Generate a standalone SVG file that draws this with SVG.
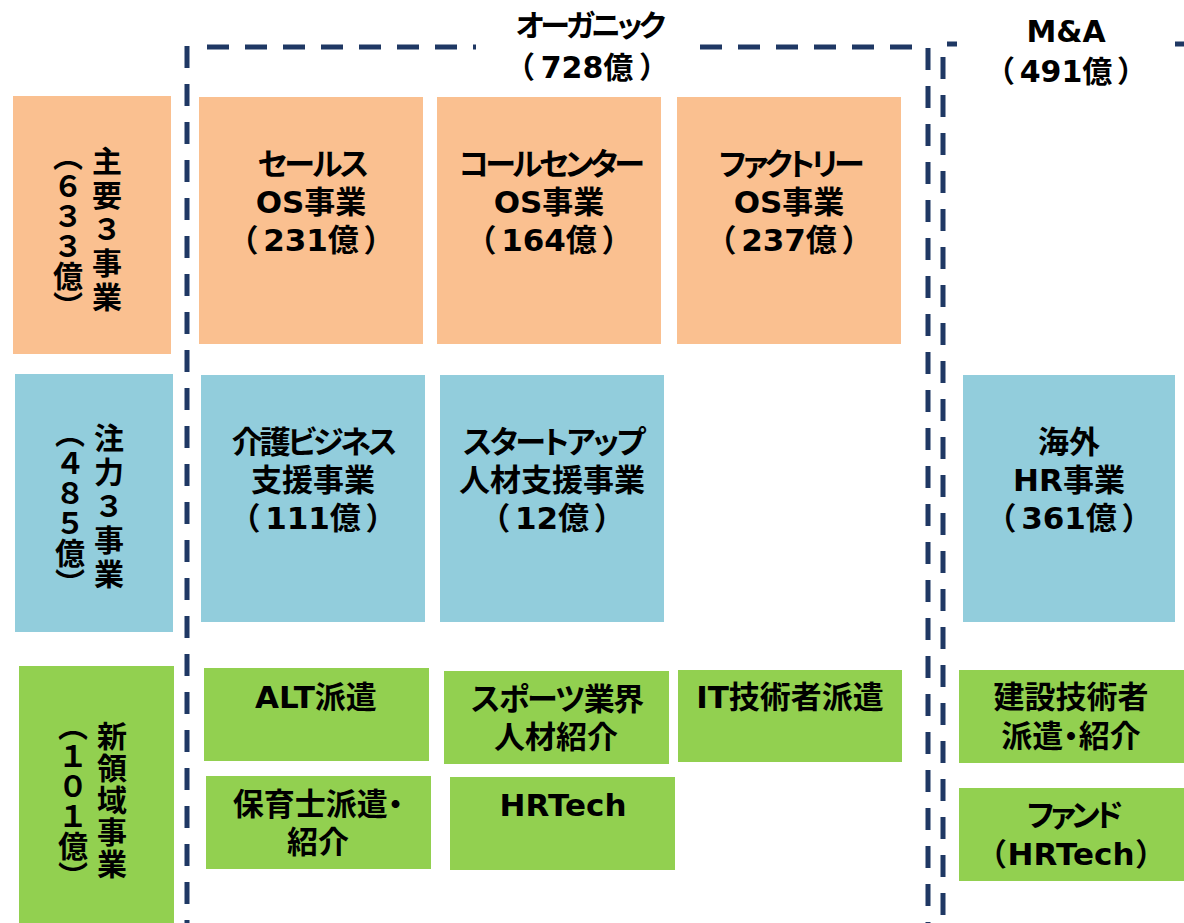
<svg xmlns="http://www.w3.org/2000/svg" width="1184" height="923" viewBox="0 0 1184 923">
<style>
.t{font-family:"DejaVu Sans","Noto Sans CJK JP",sans-serif;font-weight:700;font-size:31px;text-anchor:middle;fill:#000;font-feature-settings:"palt"}
.h{font-family:"DejaVu Sans","Noto Sans CJK JP",sans-serif;font-weight:700;font-size:30px;text-anchor:middle;fill:#000;font-feature-settings:"palt"}
.v{font-family:"Noto Sans CJK JP",sans-serif;font-weight:700;font-size:30px;writing-mode:vertical-rl;text-anchor:middle;fill:#000}
.or{fill:#FAC090}.bl{fill:#92CDDC}.gr{fill:#92D050}
.d{stroke:#1F3864;stroke-width:5;stroke-dasharray:22 16;fill:none}
</style>
<rect width="1184" height="923" fill="#fff"/>
<g id="frames">
<path class="d" d="M187,46 V923"/>
<path class="d" d="M207,47 H476"/>
<path class="d" d="M700,47 H918"/>
<path class="d" d="M928,48 V923"/>
<path class="d" d="M943,57 V923"/>
<path class="d" d="M947,44 H957 M1175,44 H1184" style="stroke-dasharray:none"/>
</g>
<g id="hdr-organic"><text class="h" x="589" y="36" style="letter-spacing:-3.5px">オーガニック</text><text class="h" x="587" y="78">（<tspan dx="7">728億</tspan><tspan dx="7">）</tspan></text></g>
<g id="hdr-ma"><text class="h" x="1066" y="42">M&amp;A</text><text class="h" x="1066" y="82">（<tspan dx="6">491億</tspan><tspan dx="6">）</tspan></text></g>
<g id="row-main"><rect class="or" x="13" y="96" width="158" height="258"/>
<text class="v" x="107" y="231" style="letter-spacing:4px">主要３事業</text><text class="v" x="68" y="231">（６３３億）</text></g>
<g id="row-focus"><rect class="bl" x="15" y="374" width="158" height="258"/>
<text class="v" x="109" y="508" style="letter-spacing:4px">注力３事業</text><text class="v" x="70" y="508">（４８５億）</text></g>
<g id="row-new"><rect class="gr" x="19" y="666" width="155" height="257"/>
<text class="v" x="112" y="801" style="letter-spacing:2px">新領域事業</text><text class="v" x="73" y="801">（１０１億）</text></g>
<g id="sales-os"><rect class="or" x="199" y="97" width="224" height="247"/>
<text class="t" x="312" y="175" style="letter-spacing:-2.5px">セールス</text><text class="t" x="311" y="213">OS事業</text><text class="t" x="311" y="251">（<tspan dx="6">231億</tspan><tspan dx="6">）</tspan></text></g>
<g id="callcenter-os"><rect class="or" x="437" y="97" width="224" height="247"/>
<text class="t" x="550" y="175" style="letter-spacing:-3.5px">コールセンター</text><text class="t" x="549" y="213">OS事業</text><text class="t" x="549" y="251">（<tspan dx="6">164億</tspan><tspan dx="6">）</tspan></text></g>
<g id="factory-os"><rect class="or" x="677" y="97" width="224" height="247"/>
<text class="t" x="790" y="175" style="letter-spacing:-3.5px">ファクトリー</text><text class="t" x="789" y="213">OS事業</text><text class="t" x="789" y="251">（<tspan dx="6">237億</tspan><tspan dx="6">）</tspan></text></g>
<g id="care"><rect class="bl" x="201" y="375" width="224" height="247"/>
<text class="t" x="313" y="453" style="letter-spacing:-3px">介護ビジネス</text><text class="t" x="313" y="491">支援事業</text><text class="t" x="313" y="529">（<tspan dx="6">111億</tspan><tspan dx="6">）</tspan></text></g>
<g id="startup"><rect class="bl" x="440" y="375" width="224" height="247"/>
<text class="t" x="553" y="453" style="letter-spacing:-2.5px">スタートアップ</text><text class="t" x="552" y="491">人材支援事業</text><text class="t" x="552" y="529">（<tspan dx="6">12億</tspan><tspan dx="6">）</tspan></text></g>
<g id="overseas"><rect class="bl" x="963" y="375" width="212" height="247"/>
<text class="t" x="1069" y="453">海外</text><text class="t" x="1069" y="491">HR事業</text><text class="t" x="1069" y="529">（<tspan dx="6">361億</tspan><tspan dx="6">）</tspan></text></g>
<g id="alt"><rect class="gr" x="204" y="668" width="225" height="93"/>
<text class="t" x="316" y="708">ALT派遣</text></g>
<g id="sports"><rect class="gr" x="444" y="671" width="225" height="93"/>
<text class="t" x="557" y="710" style="letter-spacing:-1.5px">スポーツ業界</text><text class="t" x="556" y="748">人材紹介</text></g>
<g id="it"><rect class="gr" x="678" y="670" width="224" height="92"/>
<text class="t" x="790" y="708">IT技術者派遣</text></g>
<g id="childcare"><rect class="gr" x="206" y="776" width="225" height="93"/>
<text class="t" x="318" y="815">保育士派遣・</text><text class="t" x="318" y="853">紹介</text></g>
<g id="hrtech"><rect class="gr" x="450" y="777" width="225" height="93"/>
<text class="t" x="563" y="816">HRTech</text></g>
<g id="construction"><rect class="gr" x="959" y="670" width="225" height="93"/>
<text class="t" x="1071" y="708">建設技術者</text><text class="t" x="1071" y="747">派遣・紹介</text></g>
<g id="fund"><rect class="gr" x="959" y="788" width="225" height="93"/>
<text class="t" x="1073" y="826" style="letter-spacing:-4px">ファンド</text><text class="t" x="1071" y="865">（<tspan dx="2">HRTech</tspan><tspan dx="2">）</tspan></text></g>
</svg>
